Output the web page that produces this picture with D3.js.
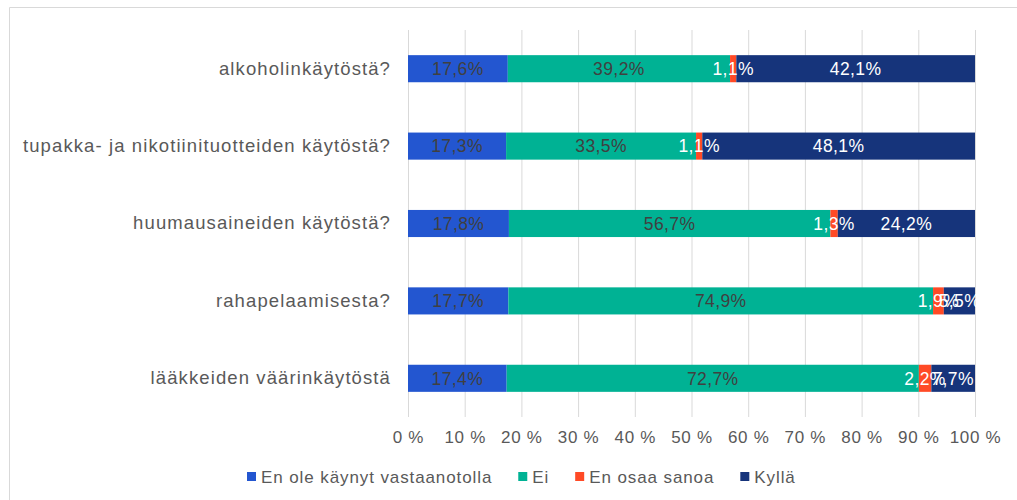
<!DOCTYPE html>
<html>
<head>
<meta charset="utf-8">
<script src="https://cdn.jsdelivr.net/npm/d3@7"></script>
<style>
  html, body { margin: 0; padding: 0; background: #ffffff; }
  svg { display: block; }
</style>
</head>
<body>
<div id="chart"></div>
<script>
// Data
const categories = [
  "alkoholinkäytöstä?",
  "tupakka- ja nikotiinituotteiden käytöstä?",
  "huumausaineiden käytöstä?",
  "rahapelaamisesta?",
  "lääkkeiden väärinkäytöstä"
];
const seriesNames = ["En ole käynyt vastaanotolla", "Ei", "En osaa sanoa", "Kyllä"];
const notVisited = [17.6, 17.3, 17.8, 17.7, 17.4];
const no = [39.2, 33.5, 56.7, 74.9, 72.7];
const dontKnow = [1.1, 1.1, 1.3, 1.9, 2.2];
const yes = [42.1, 48.1, 24.2, 5.5, 7.7];
const tickValues = [0, 10, 20, 30, 40, 50, 60, 70, 80, 90, 100];

const seriesColors = ["#2356d0", "#00b294", "#ff4a26", "#16347b"];
const labelColors = ["#404040", "#404040", "#ffffff", "#ffffff"];

function makeChart(containerSelector) {
    const width = 1017, height = 500;
    const fontFamily = "'Liberation Sans', Arial, sans-serif";
    const textColor = "#595959";
    const gridColor = "#d9d9d9";

    const svg = d3.select(containerSelector)
        .append("svg")
        .attr("width", width)
        .attr("height", height);

    // chart frame (partly visible)
    svg.append("path")
        .attr("d", `M9.5,${height} V7.5 H${width}`)
        .attr("fill", "none")
        .attr("stroke", gridColor)
        .attr("stroke-width", 1);

    const plot = { left: 408, right: 975, top: 30, bottom: 417 };

    const xScale = d3.scaleLinear().domain([0, 100]).range([plot.left, plot.right]);
    const yScale = d3.scaleBand()
        .domain(categories)
        .range([plot.top, plot.bottom])
        .paddingInner(0.65)
        .paddingOuter(0.325);

    // gridlines + tick labels
    const xAxis = svg.append("g")
        .attr("transform", `translate(0, ${plot.bottom})`)
        .call(d3.axisBottom(xScale)
            .tickValues(tickValues)
            .tickSize(-(plot.bottom - plot.top))
            .tickPadding(14)
            .tickFormat(d => d + " %"));
    xAxis.select(".domain").remove();
    xAxis.selectAll(".tick line").attr("stroke", gridColor);
    xAxis.selectAll("text")
        .style("font-family", fontFamily)
        .style("font-size", "17px")
        .style("letter-spacing", "0.7px")
        .style("fill", textColor);

    // category labels
    const yAxis = svg.append("g")
        .attr("transform", `translate(${plot.left}, 0)`)
        .call(d3.axisLeft(yScale).tickSize(0).tickPadding(17));
    yAxis.select(".domain").remove();
    yAxis.selectAll("text")
        .style("font-family", fontFamily)
        .style("font-size", "18.5px")
        .style("letter-spacing", "1.1px")
        .style("fill", textColor);

    // stack data
    const rows = categories.map((c, i) => ({
        category: c,
        values: [notVisited[i], no[i], dontKnow[i], yes[i]]
    }));
    const segments = [];
    rows.forEach(r => {
        let acc = 0;
        r.values.forEach((v, s) => {
            segments.push({ category: r.category, series: s, x0: acc, x1: acc + v, value: v });
            acc += v;
        });
    });

    const barGroup = svg.append("g");
    barGroup.selectAll("rect")
        .data(segments)
        .enter()
        .append("rect")
        .attr("x", d => xScale(d.x0))
        .attr("y", d => yScale(d.category))
        .attr("width", d => xScale(d.x1) - xScale(d.x0))
        .attr("height", yScale.bandwidth())
        .attr("fill", d => seriesColors[d.series]);

    const fmt = v => d3.format(".1f")(v).replace(".", ",") + "%";
    barGroup.selectAll("text")
        .data(segments)
        .enter()
        .append("text")
        .attr("x", d => xScale((d.x0 + d.x1) / 2))
        .attr("y", d => yScale(d.category) + yScale.bandwidth() / 2)
        .attr("dy", "0.36em")
        .attr("text-anchor", "middle")
        .style("font-family", fontFamily)
        .style("font-size", "17.5px")
        .style("letter-spacing", "0.4px")
        .style("fill", d => labelColors[d.series])
        .text(d => fmt(d.value));

    // legend
    const legend = svg.append("g");
    const items = legend.selectAll("g")
        .data(seriesNames)
        .enter()
        .append("g");
    items.append("rect")
        .attr("width", 9)
        .attr("height", 9)
        .attr("y", -5)
        .attr("fill", (d, i) => seriesColors[i]);
    items.append("text")
        .attr("x", 14)
        .attr("dy", "0.36em")
        .style("font-family", fontFamily)
        .style("font-size", "17px")
        .style("letter-spacing", "0.9px")
        .style("fill", textColor)
        .text(d => d);
    let lx = 0;
    items.each(function() {
        const w = this.getBBox().width;
        d3.select(this).attr("transform", `translate(${lx}, 0)`);
        lx += w + 26;
    });
    legend.attr("transform", `translate(247, 477)`);

    return svg.node();
}

makeChart("#chart");
</script>
</body>
</html>
